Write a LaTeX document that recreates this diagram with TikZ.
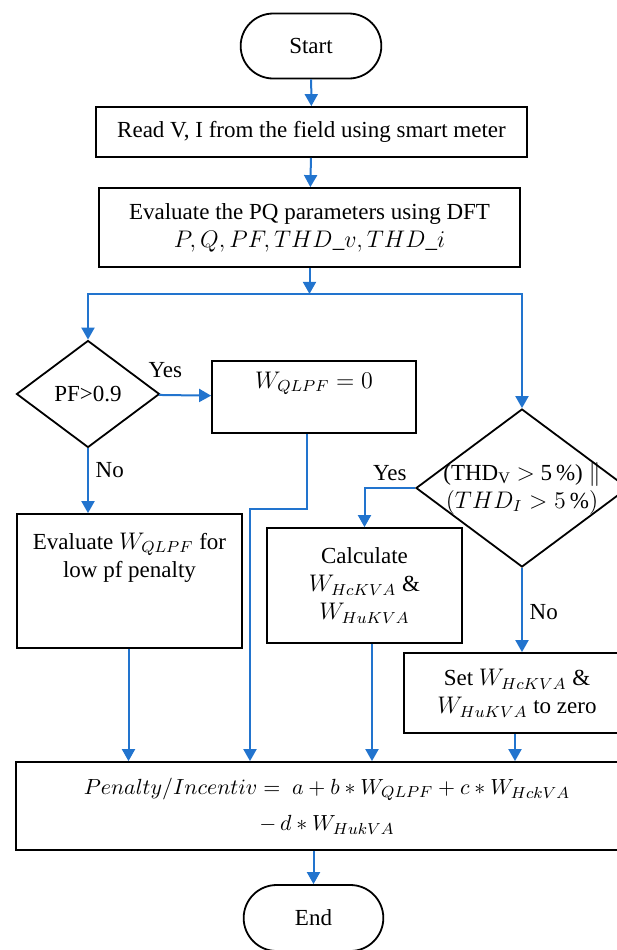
\documentclass[tikz,border=0pt]{standalone}
\usepackage{fontspec}
\setmainfont{Liberation Serif}
\usetikzlibrary{arrows.meta,shapes.geometric,shapes.misc}
\definecolor{flowblue}{RGB}{34,116,206}

\begin{document}
\begin{tikzpicture}[x=0.5pt,y=-0.5pt,
  font=\fontsize{11.5}{14}\selectfont,
  flow/.style={draw=flowblue,line width=1pt,-{Triangle[length=6pt,width=6.5pt]}},
  process/.style={draw,line width=0.9pt,rectangle,align=center,inner sep=2pt},
  terminal/.style={draw,line width=0.9pt,rounded rectangle,minimum width=77pt,minimum height=32.5pt},
  decision/.style={draw,line width=0.9pt,diamond,inner sep=0pt,aspect=1.34,align=center}]
\useasboundingbox (0,0) rectangle (617,950);
\clip (0,0) rectangle (617,950);

\node[terminal] (start) at (311,46) {Start};
\node[process,minimum width=215.5pt,minimum height=25pt] (read) at (311.5,132) {Read V, I from the field using smart meter};
\node[process,minimum width=210.5pt,minimum height=39.5pt] (pq) at (309.5,227.5) {Evaluate the PQ parameters using DFT\\$P, Q, PF, THD\_v, THD\_i$};
\node[decision,minimum width=71.5pt,minimum height=53.5pt] (pf) at (88,394) {PF>0.9};
\node[process,minimum width=102pt,minimum height=36pt,text depth=17pt] (wzero) at (314,397) {$W_{QLPF}=0$};
\node[process,minimum width=112.5pt,minimum height=67pt,text depth=26pt] (eval) at (129.5,581) {Evaluate $W_{QLPF}$ for\\low pf penalty};
\node[decision,minimum width=106pt,minimum height=79pt] (thd) at (522,488) {\makebox[40pt]{(THD$_{\mathrm{V}}$ $>$ 5\,\%) $\|$}\\\makebox[40pt]{$(THD_I>5\,\%)$}};
\node[process,minimum width=97.5pt,minimum height=57.5pt] (calc) at (364.5,585.5) {Calculate\\$W_{HcKVA}$ \&\\$W_{HuKVA}$};
\node[process,minimum width=113pt,minimum height=40pt] (set) at (517,693) {Set $W_{HcKVA}$ \&\\$W_{HuKVA}$ to zero};
\node[process,minimum width=311pt,minimum height=44pt,font=\fontsize{11}{14}\selectfont] (pen) at (327,806) {$Penalty/Incentiv =\ a + b \ast W_{QLPF} + c \ast W_{HckVA}$\\[4pt]$-\,d \ast W_{HukVA}$};
\node[terminal,minimum width=76.5pt,minimum height=33pt] (end) at (313.5,918) {End};

\coordinate (split) at ([yshift=-13pt]pq.south);
\coordinate (wbend) at (250,509);

\draw[flow] (start) -- (read);
\draw[flow] (read) -- (pq);
\draw[flow] (pq) -- (split);
\draw[flow] (split) -| (pf.north);
\draw[flow] (split) -| (thd.north);
\draw[flow] (pf) -- node[pos=0.12,above=5pt] {Yes} (wzero);
\draw[flow] (pf.south) -- node[pos=0.34,right] {No} (pf.south |- eval.north);
\draw[flow] (thd.west) -| node[pos=0.25,above] {Yes} (calc.north);
\draw[flow] (thd.south) -- node[pos=0.52,right] {No} (thd.south |- set.north);
\draw[flow] ([xshift=-3.5pt]wzero.south) |- (wbend) -- (wbend |- pen.north);
\draw[flow] ([xshift=-0.5pt]eval.south) -- ([xshift=-0.5pt]eval.south |- pen.north);
\draw[flow] ([xshift=3.75pt]calc.south) -- ([xshift=3.75pt]calc.south |- pen.north);
\draw[flow] ([xshift=-1pt]set.south) -- ([xshift=-1pt]set.south |- pen.north);
\draw[flow] (pen.south -| end.north) -- (end.north);
\end{tikzpicture}
\end{document}
